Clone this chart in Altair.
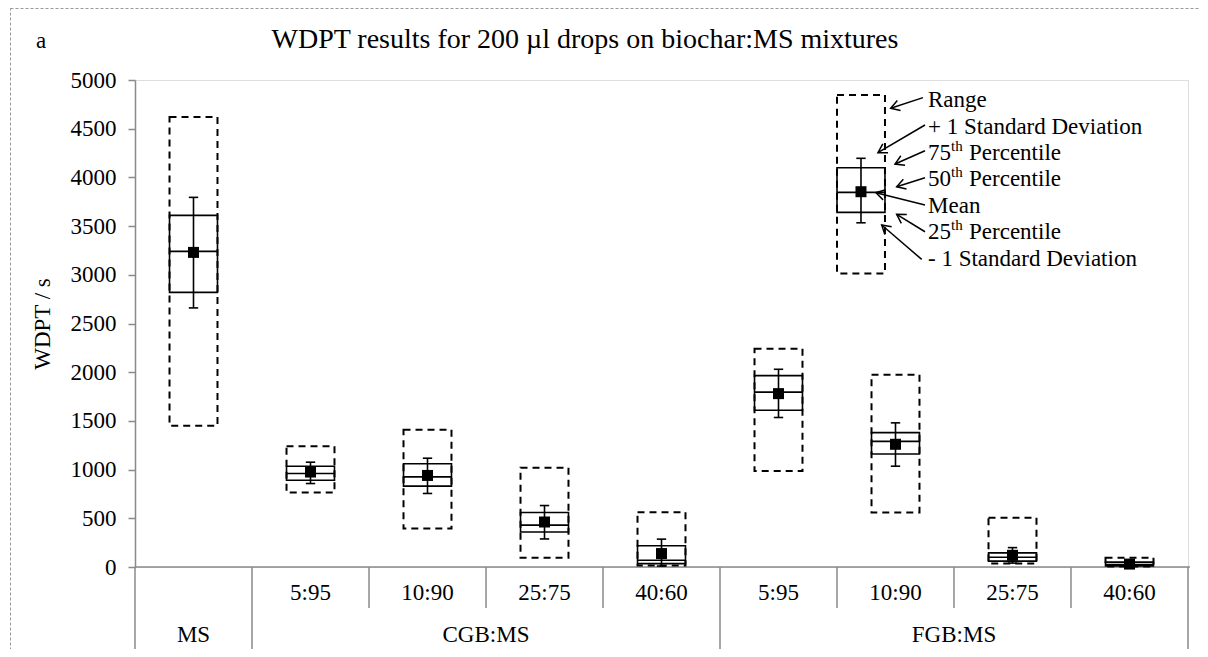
import math
import altair as alt
import pandas as pd

# ---------------- data ----------------
categories = ["MS", "5:95", "10:90", "25:75", "40:60", "5:95", "10:90", "25:75", "40:60"]
groups = ["MS", "CGB:MS", "FGB:MS"]
group_start = [0, 1, 5]
group_end = [1, 5, 9]

range_min = [1450, 765, 395, 95, 15, 985, 560, 35, 5]
range_max = [4620, 1240, 1410, 1020, 562, 2240, 1975, 505, 95]
q1 = [2820, 890, 830, 360, 35, 1610, 1160, 60, 12]
median = [3240, 960, 925, 430, 70, 1795, 1290, 100, 25]
q3 = [3610, 1035, 1060, 560, 218, 1965, 1380, 145, 50]
mean = [3230, 975, 940, 462, 138, 1780, 1260, 120, 30]
sd_lo = [2660, 857, 755, 288, 10, 1535, 1035, 40, 0]
sd_hi = [3795, 1076, 1117, 631, 286, 2030, 1480, 199, 60]

# explanatory example box (key) drawn inside the plot
key_x = 6.205
key_stats = {"rmin": 3014, "q1": 3641, "med": 3846, "q3": 4099,
             "mean": 3853, "sdlo": 3534, "sdhi": 4196, "rmax": 4846}

key_pre = ["Range", "+ 1 Standard Deviation", "75", "50", "Mean", "25", "- 1 Standard Deviation"]
key_sup = ["", "", "th", "th", "", "th", ""]
key_post = ["", "", "Percentile", "Percentile", "", "Percentile", ""]
key_label_x = 6.778
key_label_y = [4795, 4521, 4247, 3980, 3706, 3442, 3158]
arrow_tail_x = [6.735, 6.752, 6.752, 6.752, 6.752, 6.752, 6.724]
arrow_tail_y = [4819, 4538, 4274, 3997, 3716, 3442, 3158]
arrow_head_x = [6.459, 6.350, 6.496, 6.510, 6.333, 6.510, 6.382]
arrow_head_y = [4710, 4254, 4137, 3904, 3843, 3621, 3511]

# ---------------- layout ----------------
W, H = 1053, 487
XMAX, YMAX = 9, 5000
BOX_HALF = 0.205
CAP_HALF = 0.04
FONT = "Liberation Serif"
FS = 23
GRAY = "#8a8a8a"

rows = []
for i in range(len(categories)):
    rows.append(dict(xc=i + 0.5, rmin=range_min[i], rmax=range_max[i], q1=q1[i],
                     med=median[i], q3=q3[i], mean=mean[i], sdlo=sd_lo[i], sdhi=sd_hi[i]))
rows.append(dict(xc=key_x, **key_stats))
df = pd.DataFrame(rows)
df["xl"] = df["xc"] - BOX_HALF
df["xr"] = df["xc"] + BOX_HALF
df["cl"] = df["xc"] - CAP_HALF
df["cr"] = df["xc"] + CAP_HALF

xs = alt.Scale(domain=[0, XMAX], nice=False, zero=False)
ys = alt.Scale(domain=[0, YMAX], nice=False)
yaxis = alt.Axis(values=list(range(0, 5001, 500)), format="d", title="WDPT / s", grid=False,
                 labelFont=FONT, labelFontSize=FS, labelColor="black", labelPadding=12,
                 titleFont=FONT, titleFontSize=FS, titleFontWeight="normal", titleColor="black",
                 titleX=-93, titleY=H / 2, titleAngle=270, titleAlign="center",
                 titleBaseline="middle",
                 domainColor=GRAY, tickColor=GRAY, tickSize=7, domainWidth=1.5, tickWidth=1.5)


def X(f):
    return alt.X(f, type="quantitative", scale=xs, axis=None)


def Y(f):
    return alt.Y(f, type="quantitative", scale=ys, axis=yaxis)


base = alt.Chart(df)

baseline = alt.Chart(pd.DataFrame({"a": [0]})).mark_rule(color=GRAY, strokeWidth=1.5).encode(
    x=alt.value(0), x2=alt.value(W + 2), y=alt.value(H))

range_box = base.mark_rect(fillOpacity=0, stroke="black", strokeWidth=2, strokeDash=[7, 5]).encode(
    x=X("xl"), x2="xr", y=Y("rmin"), y2="rmax")
iqr_box = base.mark_rect(fillOpacity=0, stroke="black", strokeWidth=1.6).encode(
    x=X("xl"), x2="xr", y=Y("q1"), y2="q3")
med_line = base.mark_rule(color="black", strokeWidth=1.6).encode(x=X("xl"), x2="xr", y=Y("med"))
err = base.mark_rule(color="black", strokeWidth=1.6).encode(x=X("xc"), y=Y("sdlo"), y2="sdhi")
cap_hi = base.mark_rule(color="black", strokeWidth=1.6).encode(x=X("cl"), x2="cr", y=Y("sdhi"))
cap_lo = base.mark_rule(color="black", strokeWidth=1.6).encode(x=X("cl"), x2="cr", y=Y("sdlo"))
mean_pt = base.mark_square(size=121, color="black", opacity=1).encode(x=X("xc"), y=Y("mean"))

# arrows of the key
px_x = W / XMAX
px_y = H / YMAX
ang = []
for tx, ty, hx, hy in zip(arrow_tail_x, arrow_tail_y, arrow_head_x, arrow_head_y):
    dx = (hx - tx) * px_x
    dy = -(hy - ty) * px_y
    ang.append(math.degrees(math.atan2(dy, dx)) % 360)
arr = pd.DataFrame({"tx": arrow_tail_x, "ty": arrow_tail_y, "hx": arrow_head_x,
                    "hy": arrow_head_y, "ang": ang})
arrow_lines = alt.Chart(arr).mark_rule(color="black", strokeWidth=1.5).encode(
    x=X("tx"), x2="hx", y=Y("ty"), y2="hy")
arrow_heads = alt.Chart(arr).mark_point(
    shape="M-1,-0.6L0,0L-1,0.6", filled=False, stroke="black", strokeWidth=1.5,
    size=300, opacity=1).encode(x=X("hx"), y=Y("hy"), angle=alt.Angle("ang:Q", scale=None))

lab = pd.DataFrame({"x": [key_label_x] * len(key_pre), "y": key_label_y,
                    "pre": key_pre, "sup": key_sup, "post": key_post})
lab_pre = alt.Chart(lab).mark_text(font=FONT, fontSize=FS, align="left", baseline="middle",
                                   color="black").encode(x=X("x"), y=Y("y"), text="pre")
lab_sup = alt.Chart(lab).mark_text(font=FONT, fontSize=15, align="left", baseline="middle",
                                   color="black", dx=FS, dy=-7).encode(x=X("x"), y=Y("y"), text="sup")
lab_post = alt.Chart(lab).mark_text(font=FONT, fontSize=FS, align="left", baseline="middle",
                                    color="black", dx=FS + 18).encode(x=X("x"), y=Y("y"), text="post")

# custom categorical x axis
cat_df = pd.DataFrame({"xc": [i + 0.5 for i in range(1, len(categories))],
                       "label": categories[1:]})
cat_text = alt.Chart(cat_df).mark_text(font=FONT, fontSize=FS, baseline="middle", color="black").encode(
    x=X("xc"), y=alt.value(H + 26), text="label")
grp_df = pd.DataFrame({"xc": [(a + b) / 2 for a, b in zip(group_start, group_end)], "label": groups})
grp_text = alt.Chart(grp_df).mark_text(font=FONT, fontSize=FS, baseline="middle", color="black").encode(
    x=X("xc"), y=alt.value(H + 68), text="label")
grp_sep = alt.Chart(pd.DataFrame({"x": sorted(set(group_start + group_end))})).mark_rule(
    color=GRAY, strokeWidth=1.5).encode(x=X("x"), y=alt.value(H), y2=alt.value(H + 82))
sub_pos = [i for i in range(1, XMAX) if i not in group_start + group_end]
sub_sep = alt.Chart(pd.DataFrame({"x": sub_pos})).mark_rule(color=GRAY, strokeWidth=1.5).encode(
    x=X("x"), y=alt.value(H), y2=alt.value(H + 41))

title = alt.Chart(pd.DataFrame({"t": ["WDPT results for 200 µl drops on biochar:MS mixtures"]})).mark_text(
    font=FONT, fontSize=28, baseline="middle", align="center", color="black").encode(
    x=alt.value(450), y=alt.value(-40), text="t")
panel = alt.Chart(pd.DataFrame({"t": ["a"]})).mark_text(
    font=FONT, fontSize=FS, baseline="middle", align="left", color="black").encode(
    x=alt.value(-99), y=alt.value(-39), text="t")
frame = alt.Chart(pd.DataFrame({"a": [0]})).mark_rect(
    fillOpacity=0, stroke="#999", strokeWidth=1, strokeDash=[3, 2]).encode(
    x=alt.value(-124.5), x2=alt.value(W + 100), y=alt.value(-71.5), y2=alt.value(H + 200))

chart = alt.layer(
    frame, baseline, grp_sep, sub_sep, range_box, iqr_box, med_line, err, cap_hi, cap_lo, mean_pt,
    arrow_lines, arrow_heads, lab_pre, lab_sup, lab_post, cat_text, grp_text, title, panel
).properties(
    width=W, height=H,
    autosize=alt.AutoSizeParams(type="none"),
    padding={"left": 127, "top": 72, "right": 12, "bottom": 82},
).configure_view(stroke=None).configure(background="white")

chart.save("out.html", embed_options={"renderer": "svg", "actions": False})
